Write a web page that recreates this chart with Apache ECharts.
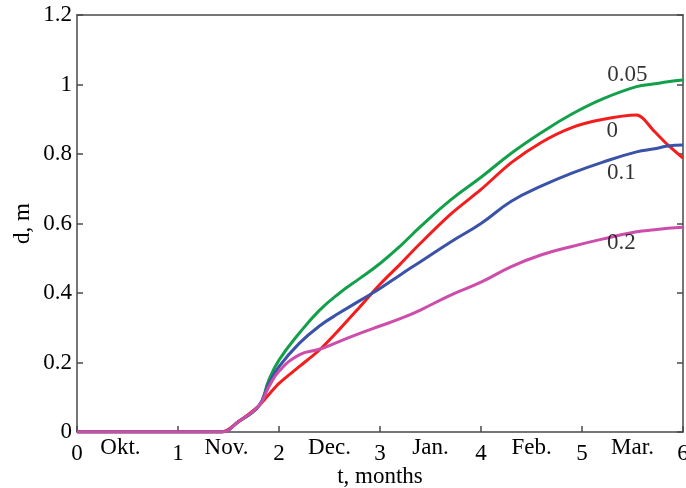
<!DOCTYPE html>
<html><head><meta charset="utf-8">
<script src="https://cdn.jsdelivr.net/npm/echarts@6/dist/echarts.min.js"></script>
<style>html,body{margin:0;padding:0;background:#fff}#c{width:686px;height:488px}</style>
</head><body><div id="c"></div>
<script>
// time grid (months)
const tGrid = [0, 1.43, 1.6, 1.8, 1.9, 2.0, 2.2, 2.4, 2.6, 2.8, 3.0, 3.2, 3.4, 3.7, 4.0, 4.3, 4.6, 4.9, 5.2, 5.54, 5.72, 5.85, 6.0];
const d005 = [0, 0, 0.03, 0.075, 0.150, 0.207, 0.284, 0.350, 0.400, 0.442, 0.485, 0.535, 0.591, 0.668, 0.733, 0.802, 0.862, 0.915, 0.958, 0.994, 1.002, 1.008, 1.013];
const d0   = [0, 0, 0.03, 0.075, 0.108, 0.140, 0.188, 0.236, 0.296, 0.360, 0.425, 0.483, 0.543, 0.627, 0.698, 0.775, 0.834, 0.876, 0.899, 0.912, 0.864, 0.826, 0.788];
const d01  = [0, 0, 0.03, 0.075, 0.140, 0.188, 0.255, 0.305, 0.343, 0.378, 0.413, 0.452, 0.490, 0.547, 0.600, 0.664, 0.708, 0.745, 0.776, 0.806, 0.815, 0.823, 0.826];
const d02  = [0, 0, 0.03, 0.075, 0.130, 0.175, 0.222, 0.238, 0.261, 0.284, 0.305, 0.326, 0.351, 0.394, 0.431, 0.476, 0.510, 0.534, 0.555, 0.576, 0.582, 0.586, 0.589];

const xTicks = [0, 1, 2, 3, 4, 5, 6];
const monthPos = [0.43, 1.48, 2.5, 3.5, 4.5, 5.5];
const monthNames = ['Okt.', 'Nov.', 'Dec.', 'Jan.', 'Feb.', 'Mar.'];
const curveLabels = [[5.45, 1.027, '0.05'], [5.30, 0.866, '0'], [5.39, 0.745, '0.1'], [5.39, 0.544, '0.2']];

const FONT = '"Liberation Serif","Times New Roman",serif';
const FS = 23;
const AX = '#4a4a4a';
const pair = (ys) => tGrid.map((t, i) => [t, ys[i]]);

const labelVals = xTicks.concat(monthPos).sort((a, b) => a - b);
const chart = echarts.init(document.getElementById('c'), null, {renderer: 'canvas'});
const lineCommon = {type: 'line', symbol: 'none', smooth: 0.45, z: 3, silent: true};

chart.setOption({
  animation: false,
  backgroundColor: '#fff',
  grid: {left: 77, right: 3, top: 15, bottom: 56, outerBoundsMode: 'none', containLabel: false},
  xAxis: [{
    type: 'value', min: 0, max: 6, interval: 1, position: 'bottom',
    name: 't, months', nameLocation: 'middle', nameGap: 33, nameMoveOverlap: false,
    nameTextStyle: {fontFamily: FONT, fontSize: FS, color: '#000'},
    axisLine: {show: true, onZero: false, lineStyle: {color: AX, width: 1.5}},
    axisTick: {show: true, inside: true, length: 6, customValues: xTicks, lineStyle: {color: AX, width: 1.5}},
    axisLabel: {
      customValues: labelVals, margin: 4, fontFamily: FONT, fontSize: FS, color: '#000',
      showMaxLabel: true, hideOverlap: false,
      formatter: (v) => {
        const k = monthPos.findIndex(p => Math.abs(p - v) < 1e-6);
        if (k >= 0) return '{m|' + monthNames[k] + '}';
        return '{n|' + String(Math.round(v)) + '}';
      },
      rich: {m: {fontFamily: FONT, fontSize: FS, color: '#000', padding: [0, 0, 4, 0]},
             n: {fontFamily: FONT, fontSize: FS, color: '#000', padding: [6, 0, 0, 0]}}
    },
    splitLine: {show: false}
  }, {
    type: 'value', min: 0, max: 6, interval: 1, position: 'top',
    axisLine: {show: true, onZero: false, lineStyle: {color: AX, width: 1.5}},
    axisTick: {show: false},
    axisLabel: {show: false}, splitLine: {show: false}
  }],
  yAxis: [{
    type: 'value', min: 0, max: 1.2, interval: 0.2, position: 'left',
    name: 'd, m', nameLocation: 'middle', nameGap: 43, nameRotate: 90, nameMoveOverlap: false,
    nameTextStyle: {fontFamily: FONT, fontSize: FS, color: '#000'},
    axisLine: {show: true, onZero: false, lineStyle: {color: AX, width: 1.5}},
    axisTick: {show: true, inside: true, length: 6, lineStyle: {color: AX, width: 1.5}},
    axisLabel: {margin: 5, fontFamily: FONT, fontSize: FS, color: '#000',
      formatter: (v) => String(Math.round(v * 10) / 10)},
    splitLine: {show: false}
  }, {
    type: 'value', min: 0, max: 1.2, interval: 0.2, position: 'right',
    axisLine: {show: true, onZero: false, lineStyle: {color: AX, width: 1.5}},
    axisTick: {show: true, inside: true, length: 6, lineStyle: {color: AX, width: 1.5}},
    axisLabel: {show: false}, splitLine: {show: false}
  }],
  series: [
    Object.assign({}, lineCommon, {name: '0.05', data: pair(d005), lineStyle: {width: 3, color: '#12a04a'}}),
    Object.assign({}, lineCommon, {name: '0', data: pair(d0), smooth: 0.3, lineStyle: {width: 3, color: '#f41c1c'}}),
    Object.assign({}, lineCommon, {name: '0.1', data: pair(d01), lineStyle: {width: 3, color: '#3a52a8'}}),
    Object.assign({}, lineCommon, {name: '0.2', data: pair(d02), lineStyle: {width: 3, color: '#cc4daa'}}),
    {
      type: 'scatter', symbolSize: 0, silent: true, z: 5,
      data: curveLabels.map(p => ({value: [p[0], p[1]], name: p[2]})),
      label: {show: true, position: 'inside', formatter: (p) => p.name,
        fontFamily: FONT, fontSize: FS, color: '#000'}
    }
  ]
});
</script></body></html>
